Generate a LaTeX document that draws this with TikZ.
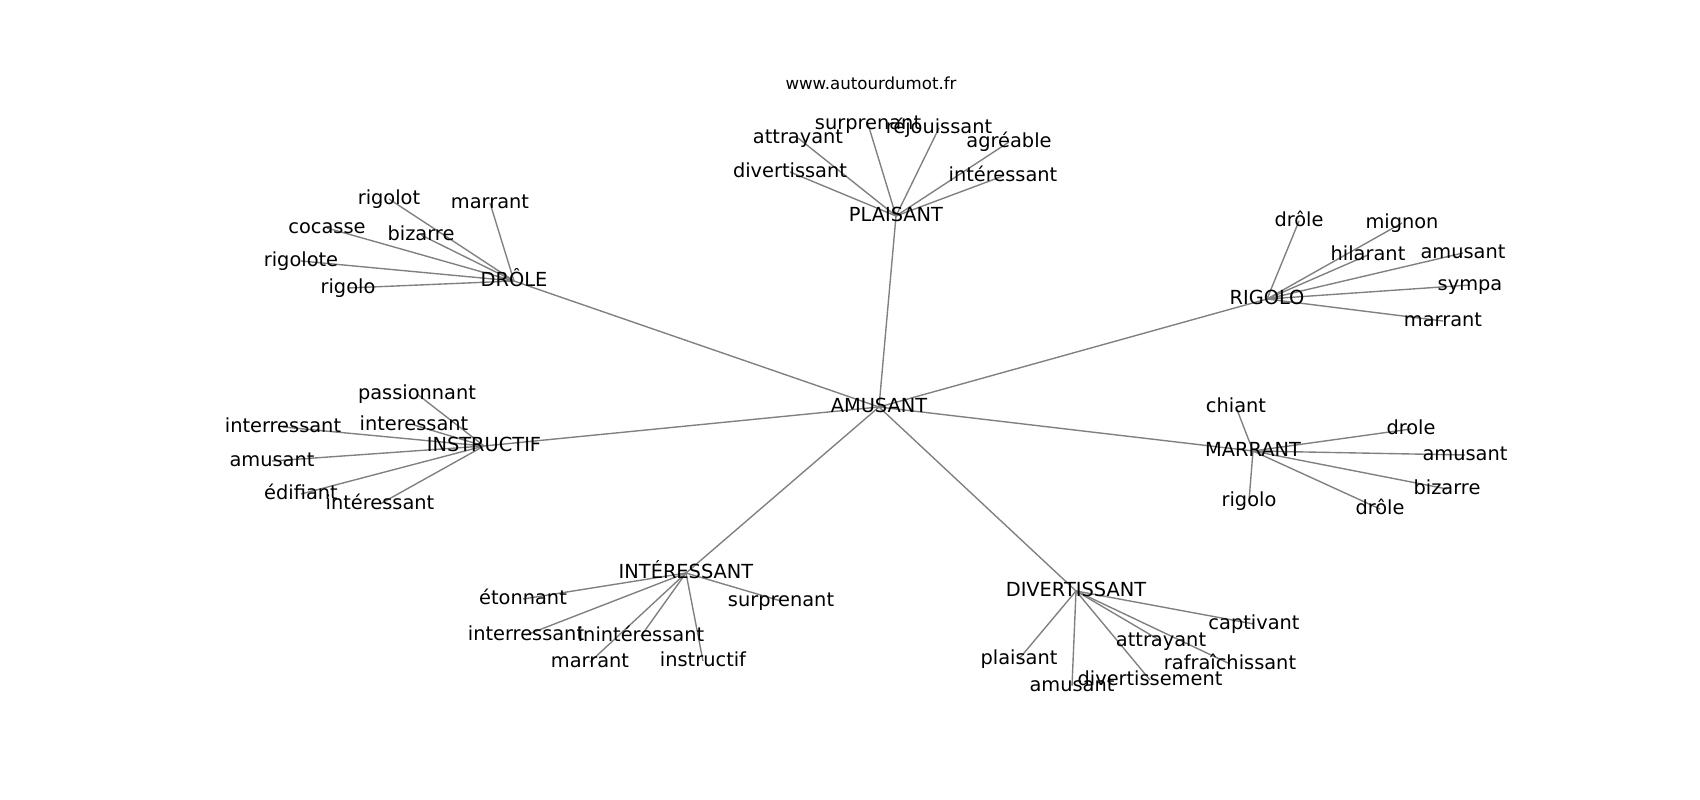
\documentclass[tikz,border=0pt]{standalone}
\usepackage{fontspec}
\setmainfont{DejaVu Sans}
\usepackage{tikz}
\usetikzlibrary{backgrounds}
\tikzstyle{word}=[inner sep=0pt, text height=10.64pt, text depth=2.91pt, font=\fontsize{14}{17}\selectfont]
\tikzstyle{site}=[inner sep=0pt, text height=9.12pt, text depth=2.5pt, font=\fontsize{12}{14}\selectfont]
\tikzstyle{link}=[draw=gray, line width=1pt]

\begin{document}
\begin{tikzpicture}[x=0.01in,y=-0.01in]
      \useasboundingbox (0,-2) rectangle (1700,798);
      \node [site] (url) at (871,83) {www.autourdumot.fr};

      % centre and hubs
      \node [word] (ams) at (879,405) {AMUSANT};
      \node [word] (pla) at (896,214) {PLAISANT};
      \node [word] (dro) at (514,279) {DRÔLE};
      \node [word] (rig) at (1267,297) {RIGOLO};
      \node [word] (ins) at (484,444) {INSTRUCTIF};
      \node [word] (mar) at (1253,449) {MARRANT};
      \node [word] (int) at (686,571) {INTÉRESSANT};
      \node [word] (div) at (1076,589) {DIVERTISSANT};

      % PLAISANT
      \node [word] (pla1) at (868,122) {surprenant};
      \node [word] (pla2) at (939,126) {réjouissant};
      \node [word] (pla3) at (798,136) {attrayant};
      \node [word] (pla4) at (1009,140) {agréable};
      \node [word] (pla5) at (790,170) {divertissant};
      \node [word] (pla6) at (1003,174) {intéressant};

      % DRÔLE
      \node [word] (dro1) at (389,197) {rigolot};
      \node [word] (dro2) at (490,201) {marrant};
      \node [word] (dro3) at (327,226) {cocasse};
      \node [word] (dro4) at (421,233) {bizarre};
      \node [word] (dro5) at (301,259) {rigolote};
      \node [word] (dro6) at (348,286) {rigolo};

      % RIGOLO
      \node [word] (rig1) at (1299,219) {drôle};
      \node [word] (rig2) at (1402,221) {mignon};
      \node [word] (rig3) at (1368,253) {hilarant};
      \node [word] (rig4) at (1463,251) {amusant};
      \node [word] (rig5) at (1470,283) {sympa};
      \node [word] (rig6) at (1443,319) {marrant};

      % INSTRUCTIF
      \node [word] (ins1) at (417,392) {passionnant};
      \node [word] (ins2) at (283,425) {interressant};
      \node [word] (ins3) at (414,423) {interessant};
      \node [word] (ins4) at (272,459) {amusant};
      \node [word] (ins5) at (301,492) {édifiant};
      \node [word] (ins6) at (380,502) {intéressant};

      % MARRANT
      \node [word] (mar1) at (1236,405) {chiant};
      \node [word] (mar2) at (1411,427) {drole};
      \node [word] (mar3) at (1465,453) {amusant};
      \node [word] (mar4) at (1447,487) {bizarre};
      \node [word] (mar5) at (1380,507) {drôle};
      \node [word] (mar6) at (1249,499) {rigolo};

      % INTÉRESSANT
      \node [word] (int1) at (523,597) {étonnant};
      \node [word] (int2) at (781,599) {surprenant};
      \node [word] (int3) at (526,633) {interressant};
      \node [word] (int4) at (641,634) {inintéressant};
      \node [word] (int5) at (590,660) {marrant};
      \node [word] (int6) at (703,659) {instructif};

      % DIVERTISSANT
      \node [word] (div1) at (1019,657) {plaisant};
      \node [word] (div2) at (1072,684) {amusant};
      \node [word] (div3) at (1150,678) {divertissement};
      \node [word] (div4) at (1161,639) {attrayant};
      \node [word] (div5) at (1230,662) {rafraîchissant};
      \node [word] (div6) at (1254,622) {captivant};

      \begin{scope}[on background layer]
      \path[link] (ams.center) edge (pla.center);
      \path[link] (ams.center) edge (dro.center);
      \path[link] (ams.center) edge (rig.center);
      \path[link] (ams.center) edge (ins.center);
      \path[link] (ams.center) edge (mar.center);
      \path[link] (ams.center) edge (int.center);
      \path[link] (ams.center) edge (div.center);

      \path[link] (pla.center) edge (pla1.center) edge (pla2.center) edge (pla3.center)
                               edge (pla4.center) edge (pla5.center) edge (pla6.center);
      \path[link] (dro.center) edge (dro1.center) edge (dro2.center) edge (dro3.center)
                               edge (dro4.center) edge (dro5.center) edge (dro6.center);
      \path[link] (rig.center) edge (rig1.center) edge (rig2.center) edge (rig3.center)
                               edge (rig4.center) edge (rig5.center) edge (rig6.center);
      \path[link] (ins.center) edge (ins1.center) edge (ins2.center) edge (ins3.center)
                               edge (ins4.center) edge (ins5.center) edge (ins6.center);
      \path[link] (mar.center) edge (mar1.center) edge (mar2.center) edge (mar3.center)
                               edge (mar4.center) edge (mar5.center) edge (mar6.center);
      \path[link] (int.center) edge (int1.center) edge (int2.center) edge (int3.center)
                               edge (int4.center) edge (int5.center) edge (int6.center);
      \path[link] (div.center) edge (div1.center) edge (div2.center) edge (div3.center)
                               edge (div4.center) edge (div5.center) edge (div6.center);
      \end{scope}
  \end{tikzpicture}
\end{document}
